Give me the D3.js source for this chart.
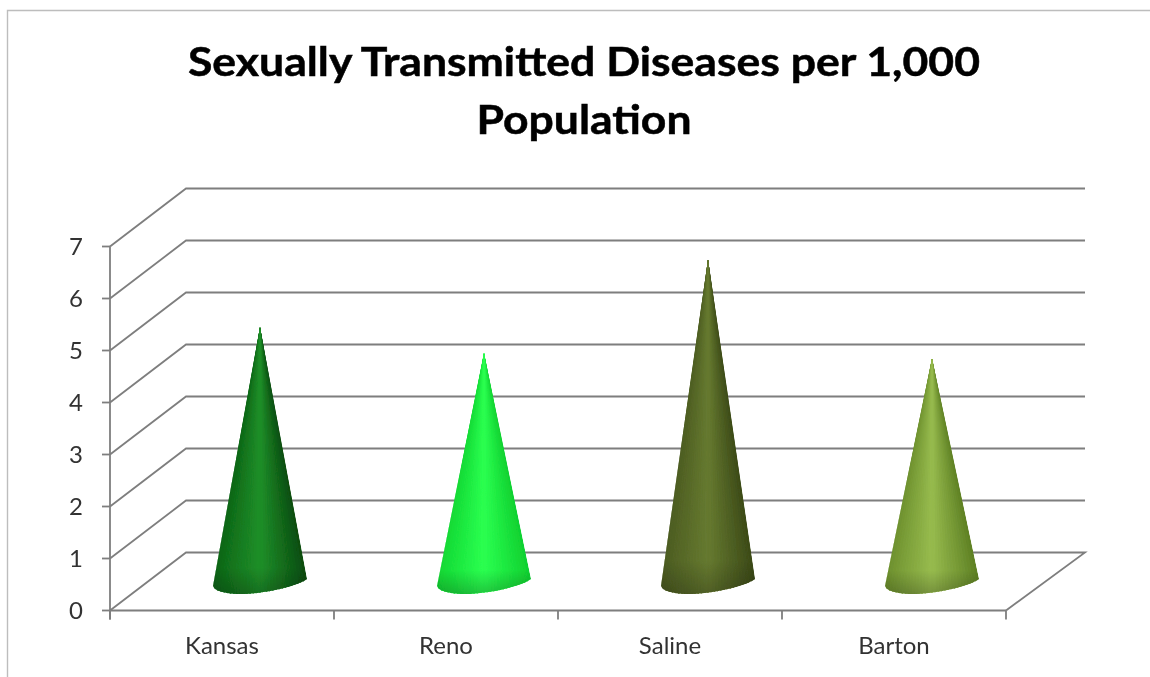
<!DOCTYPE html>
<html><head><meta charset="utf-8">
<style>html,body{margin:0;padding:0;background:#fff}svg{display:block}</style>
<script src="https://cdn.jsdelivr.net/npm/d3@7/dist/d3.min.js"></script>
</head><body><svg id="c" width="1150" height="677"></svg>
<script>
const categories=["Kansas","Reno","Saline","Barton"];
const values=[4.9,4.4,6.2,4.3];
const yTicks=[0,1,2,3,4,5,6,7];
const titleLines=["Sexually Transmitted Diseases per 1,000","Population"];
const leftShade=["#0d6516","#12d834","#4c5c22","#6d902e"];
const midShade=["#1f8f29","#2bff50","#667a30","#97bb4e"];
const rightShade=["#0a4c10","#10d030","#3c4a18","#5e8024"];

const font="Lato, 'Open Sans', sans-serif";
const svg=d3.select("#c");
const x=d3.scaleBand().domain(categories).range([110,1006]);
const y=d3.scaleLinear().domain([0,7]).range([610.5,246.5]);
const depthX=76,depthY=-58;

const defs=svg.append("defs");
defs.append("filter").attr("id","soft").append("feGaussianBlur").attr("stdDeviation",0.7);
defs.append("filter").attr("id","soft2").append("feGaussianBlur").attr("stdDeviation",0.4);

svg.append("path").attr("d","M7.5,677V10.5H1150").attr("fill","none").attr("stroke","#bdbdbd").attr("stroke-width",1.4);

titleLines.forEach((t,i)=>svg.append("text").attr("x",584).attr("y",76+i*58)
 .attr("text-anchor","middle").attr("font-family",font).attr("font-weight",700)
 .attr("font-size",40).attr("fill","#000").attr("stroke","#000").attr("stroke-width",.5).attr("filter","url(#soft2)")
 .attr("textLength",i==0?792:215).attr("lengthAdjust","spacingAndGlyphs").text(t));

const g=svg.append("g").attr("fill","none").attr("stroke","#7e7e7e").attr("stroke-width",1.8).attr("filter","url(#soft2)");
yTicks.forEach(v=>{
  const yy=y(v);
  const pts=[[110,yy],[110+depthX,yy+depthY],[1006+depthX+3,yy+depthY]];
  if(v===0) pts.push([1006,yy]);
  g.append("path").attr("d",d3.line()(pts));
  g.append("line").attr("x1",102).attr("x2",110).attr("y1",yy).attr("y2",yy);
  svg.append("text").attr("x",83).attr("y",yy+8).attr("text-anchor","end").attr("font-family",font)
    .attr("font-size",24).attr("fill","#333").attr("filter","url(#soft2)").text(v);
});
g.append("line").attr("x1",110).attr("x2",110).attr("y1",y(7)).attr("y2",y(0)+9);
g.append("line").attr("x1",110).attr("x2",1006).attr("y1",y(0)).attr("y2",y(0));
[...categories.map(c=>x(c)),1006].forEach(t=>g.append("line").attr("x1",t).attr("x2",t).attr("y1",y(0)).attr("y2",y(0)+9));

const rim=defs.append("linearGradient").attr("id","rim").attr("x1",0).attr("x2",0).attr("y1",0).attr("y2",1);
[[0.9,0],[1,0.22]].forEach(([o,a])=>rim.append("stop").attr("offset",o).attr("stop-color","#000").attr("stop-opacity",a));

const halfW=47,zeroShift=-28.5,wedges=30;
categories.forEach((c,i)=>{
  const cx=x(c)+x.bandwidth()/2+depthX/2, by=y(0)+zeroShift, ty=y(values[i])+zeroShift;
  const lx=cx-halfW, rx=cx+halfW;
  const outline=`M${cx},${ty}L${rx},${by-3}C${rx-12},${by+6} ${cx-10},${by+15} ${lx+14},${by+11}Q${lx+1},${by+9} ${lx},${by+4}Z`;
  defs.append("clipPath").attr("id","clip"+i).append("path").attr("d",outline);
  const shade=d3.scaleLinear().domain([0,.5,1]).range([leftShade[i],midShade[i],rightShade[i]]);
  const cone=svg.append("g").attr("filter","url(#soft)").append("g").attr("clip-path",`url(#clip${i})`);
  const drop=by+20;
  const order=d3.range(wedges).sort((p,q)=>Math.abs(q+.5-wedges/2)-Math.abs(p+.5-wedges/2));
  cone.selectAll("path").data(order).join("path")
    .attr("fill",k=>shade((k+.5)/wedges)).attr("stroke",k=>shade((k+.5)/wedges)).attr("stroke-width",1.4)
    .attr("d",k=>{
      const a=lx+(rx-lx)*k/wedges,b=lx+(rx-lx)*(k+1)/wedges;
      const sc=(drop-ty)/(by-ty);
      return `M${cx},${ty}L${cx+(a-cx)*sc},${drop}L${cx+(b-cx)*sc},${drop}Z`;
    });
  cone.append("path").attr("d",outline).attr("fill","url(#rim)");
});
categories.forEach(c=>svg.append("text").attr("x",x(c)+x.bandwidth()/2).attr("y",654).attr("text-anchor","middle")
  .attr("font-family",font).attr("font-size",24).attr("fill","#333").attr("filter","url(#soft2)").text(c));
</script></body></html>
